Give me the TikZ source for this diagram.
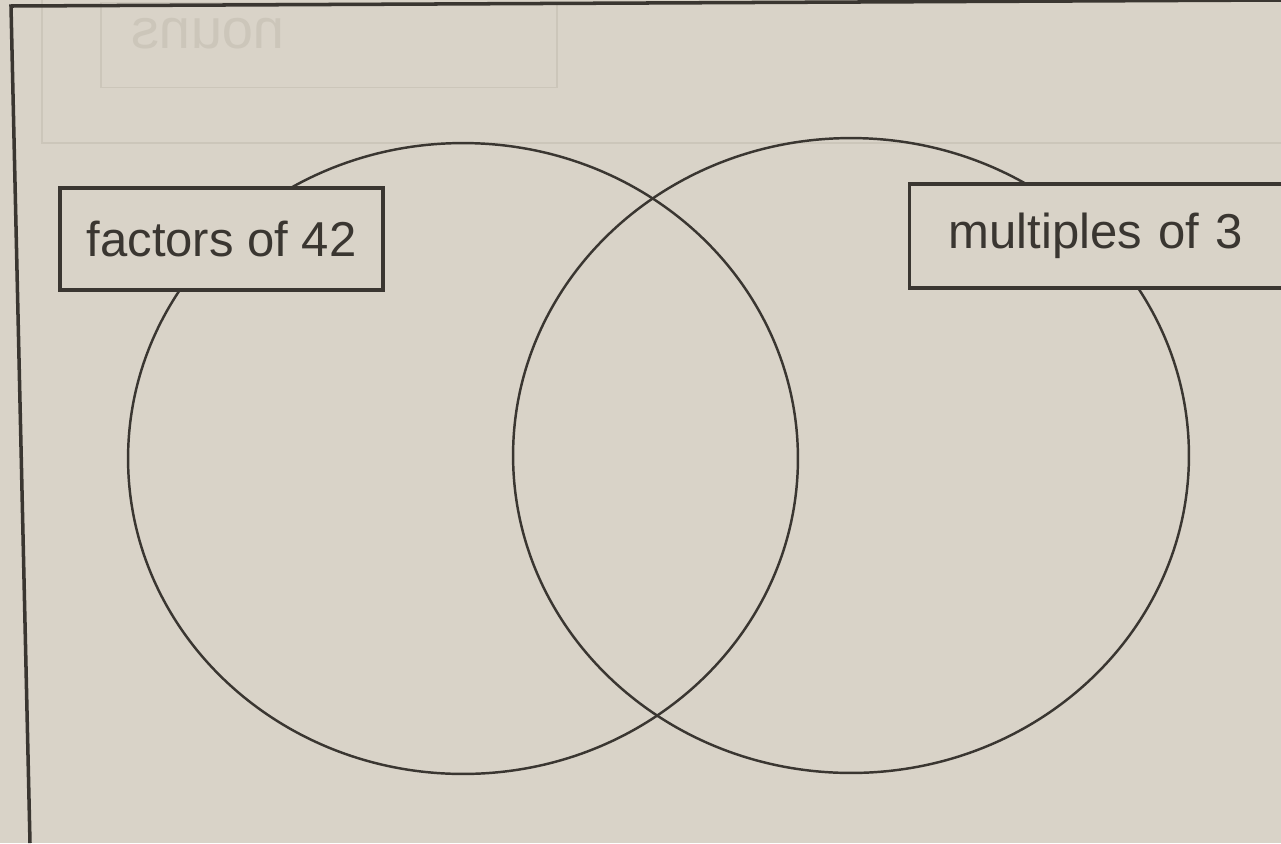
\documentclass[tikz,border=0pt]{standalone}
\usepackage{xcolor}
\usepackage{fontspec}
\setmainfont{Liberation Sans}
\usetikzlibrary{positioning,shapes.geometric}

\definecolor{paper}{HTML}{D9D3C8}
\definecolor{ink}{HTML}{3A3631}
\definecolor{ghost}{HTML}{CCC6BA}

\begin{document}
\begin{tikzpicture}[x=0.02cm, y=-0.02cm,
  every node/.style={font=\fontsize{27.9}{33}\selectfont, text=ink},
  setring/.style={ellipse, draw=ink, line width=1.4pt, inner sep=0pt},
  labelbox/.style={draw=ink, line width=1.8pt, fill=paper, inner sep=0pt}]
  \fill[paper] (0,0) rectangle (1281,843);
  \useasboundingbox (0,0) rectangle (1281,843);
  \clip (0,0) rectangle (1281,843);

  % show-through from the back of the sheet
  \draw[ghost, line width=0.8pt] (42,0) -- (42,143) -- (1281,143);
  \node[draw=ghost, line width=0.8pt, minimum width=9.12cm, minimum height=1.7cm] (ghostbox) at (329,45) {};
  \node[text=ghost, font=\fontsize{32}{36}\selectfont] (ghosttext) at (208,34) {\scalebox{-1}[1]{nouns}};

  % frame
  \coordinate (frametl) at (11,6);
  \coordinate (framebl) at (30,843);
  \coordinate (frametr) at (1281,0);
  \draw[ink, line width=2pt] (framebl) -- (frametl) -- (frametr);

  \node[setring, minimum width=13.4cm, minimum height=12.62cm] (factors) at (463,458.5) {};
  \node[setring, minimum width=13.52cm, minimum height=12.7cm] (multiples) at (851,455.5) {};

  \node[labelbox, minimum width=6.46cm, minimum height=2.04cm] (factorslabel) at (221.5,239) {factors of 42};
  \node[labelbox, anchor=west, minimum height=2.08cm, inner xsep=0.78cm, text width=6.3cm, align=left] (multipleslabel) at (908,236) {multiples of 3};
\end{tikzpicture}
\end{document}
